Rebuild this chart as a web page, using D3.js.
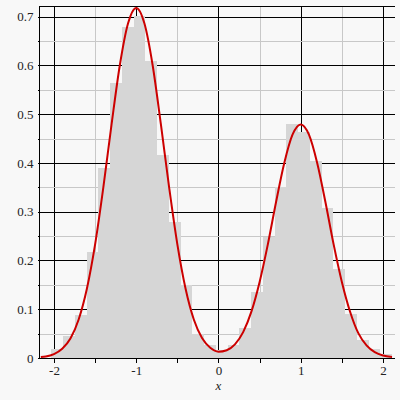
<!DOCTYPE html>
<html>
<meta charset="utf-8">

<head>
    <style>
        body {
            margin: 0;
            background: #f8f8f8;
        }

        .axis line {
            fill: none;
            stroke: #000;
            shape-rendering: crispEdges;
        }

        .axis .domain {
            display: none;
        }
    </style>
</head>

<body>
    <script src="https://d3js.org/d3.v7.min.js"></script>

    <script>
        // histogram: first bin edge, bin width, heights (density)
        var binStart = -2.032;
        var binWidth = 0.1429;
        var binHeights = [0.018, 0.045, 0.089, 0.217, 0.390, 0.564, 0.679, 0.702, 0.609, 0.416,
            0.279, 0.149, 0.049, 0.027, 0.016, 0.027, 0.062, 0.135, 0.249, 0.350,
            0.480, 0.464, 0.404, 0.308, 0.183, 0.091, 0.036, 0.018, 0.008];

        // density curve
        var curveX = [-2.16, -2.1, -2.0, -1.9, -1.8, -1.7, -1.6, -1.5, -1.4, -1.3, -1.2, -1.1,
            -1.0, -0.9, -0.8, -0.7, -0.6, -0.5, -0.4, -0.3, -0.2, -0.1, 0.0,
            0.1, 0.2, 0.3, 0.4, 0.5, 0.6, 0.7, 0.8, 0.9, 1.0, 1.1, 1.2, 1.3,
            1.4, 1.5, 1.6, 1.7, 1.8, 1.9, 2.0, 2.11];
        var curveY = [0.002, 0.003, 0.008, 0.019, 0.040, 0.079, 0.142, 0.233, 0.350, 0.479, 0.600, 0.686,
            0.718, 0.686, 0.600, 0.479, 0.350, 0.233, 0.142, 0.079, 0.041, 0.021, 0.013,
            0.016, 0.028, 0.053, 0.095, 0.156, 0.233, 0.320, 0.400, 0.458, 0.479, 0.458, 0.400, 0.320,
            0.233, 0.156, 0.095, 0.051, 0.026, 0.012, 0.005, 0.002];

        var xTicks = [-2, -1.5, -1, -0.5, 0, 0.5, 1, 1.5, 2];
        var yTicks = [0, 0.05, 0.1, 0.15, 0.2, 0.25, 0.3, 0.35, 0.4, 0.45, 0.5, 0.55, 0.6, 0.65, 0.7];

        var W = 400, H = 400;
        var margin = { top: 6, right: 5.5, bottom: 42, left: 40 };
        var serif = "'Liberation Serif', 'DejaVu Serif', serif";

        var x = d3.scaleLinear()
            .domain([-2.17, 2.14])
            .range([margin.left, W - margin.right]);
        var y = d3.scaleLinear()
            .domain([0, 0.722])
            .range([H - margin.bottom, margin.top]);

        var svg = d3.select("body")
            .append("svg")
            .attr("width", W)
            .attr("height", H);

        var isMajor = function (v) { return Math.abs(v * 10 - Math.round(v * 10)) < 1e-6; };
        var isInt = function (v) { return Math.abs(v - Math.round(v)) < 1e-6; };
        var px = function (v) { return Math.round(v) + 0.5; };

        // grid
        var grid = svg.append("g").attr("shape-rendering", "crispEdges");
        grid.selectAll(".vgrid")
            .data(xTicks)
            .join("line")
            .attr("x1", function (d) { return px(x(d)); })
            .attr("x2", function (d) { return px(x(d)); })
            .attr("y1", margin.top)
            .attr("y2", H - margin.bottom)
            .attr("stroke", function (d) { return isInt(d) ? "#000" : "#c8c8c8"; });
        grid.selectAll(".hgrid")
            .data(yTicks)
            .join("line")
            .attr("x1", margin.left)
            .attr("x2", W - margin.right)
            .attr("y1", function (d) { return px(y(d)); })
            .attr("y2", function (d) { return px(y(d)); })
            .attr("stroke", function (d) { return isMajor(d) ? "#000" : "#c8c8c8"; });

        // histogram bars
        svg.append("g")
            .attr("shape-rendering", "crispEdges")
            .selectAll("rect")
            .data(binHeights)
            .join("rect")
            .attr("x", function (d, i) { return x(binStart + i * binWidth); })
            .attr("width", function (d, i) { return x(binStart + (i + 1) * binWidth) - x(binStart + i * binWidth); })
            .attr("y", function (d) { return y(d); })
            .attr("height", function (d) { return y(0) - y(d); })
            .attr("fill", "#d6d6d6");

        // density curve
        var pts = curveX.map(function (v, i) { return [v, curveY[i]]; });
        svg.append("path")
            .datum(pts)
            .attr("fill", "none")
            .attr("stroke", "#cc0000")
            .attr("stroke-width", 2)
            .attr("d", d3.line()
                .x(function (d) { return x(d[0]); })
                .y(function (d) { return y(d[1]); })
                .curve(d3.curveMonotoneX));

        // axes
        svg.append("g")
            .attr("class", "axis")
            .attr("transform", "translate(0," + (H - margin.bottom + 0.5) + ")")
            .call(d3.axisBottom(x)
                .tickValues(xTicks)
                .tickSize(4)
                .tickPadding(3)
                .tickFormat(function (d) { return isInt(d) ? (d < 0 ? "-" + Math.abs(d) : d) : ""; }))
            .attr("font-family", serif)
            .attr("font-size", 13)
            .selectAll("text").attr("fill", "#222");

        svg.append("g")
            .attr("class", "axis")
            .attr("transform", "translate(" + (margin.left - 0.5) + ",0)")
            .call(d3.axisLeft(y)
                .tickValues(yTicks)
                .tickSize(2)
                .tickPadding(4)
                .tickFormat(function (d) { return isMajor(d) ? (d === 0 ? "0" : d3.format(".1f")(d)) : ""; }))
            .attr("font-family", serif)
            .attr("font-size", 13)
            .selectAll("text").attr("fill", "#222");

        // frame lines
        svg.append("line")
            .attr("x1", margin.left - 0.5).attr("x2", margin.left - 0.5)
            .attr("y1", margin.top).attr("y2", H - margin.bottom + 1)
            .attr("stroke", "#000").attr("shape-rendering", "crispEdges");
        svg.append("line")
            .attr("x1", margin.left - 0.5).attr("x2", W - margin.right)
            .attr("y1", H - margin.bottom + 0.5).attr("y2", H - margin.bottom + 0.5)
            .attr("stroke", "#000").attr("shape-rendering", "crispEdges");
        svg.append("line")
            .attr("x1", margin.left - 0.5).attr("x2", W - margin.right)
            .attr("y1", margin.top + 0.5).attr("y2", margin.top + 0.5)
            .attr("stroke", "#000").attr("shape-rendering", "crispEdges");

        svg.append("text")
            .attr("x", x(0))
            .attr("y", 390)
            .attr("text-anchor", "middle")
            .attr("fill", "#222")
            .style("font", "italic 13px " + serif)
            .text("x");
    </script>

</body>

</html>
